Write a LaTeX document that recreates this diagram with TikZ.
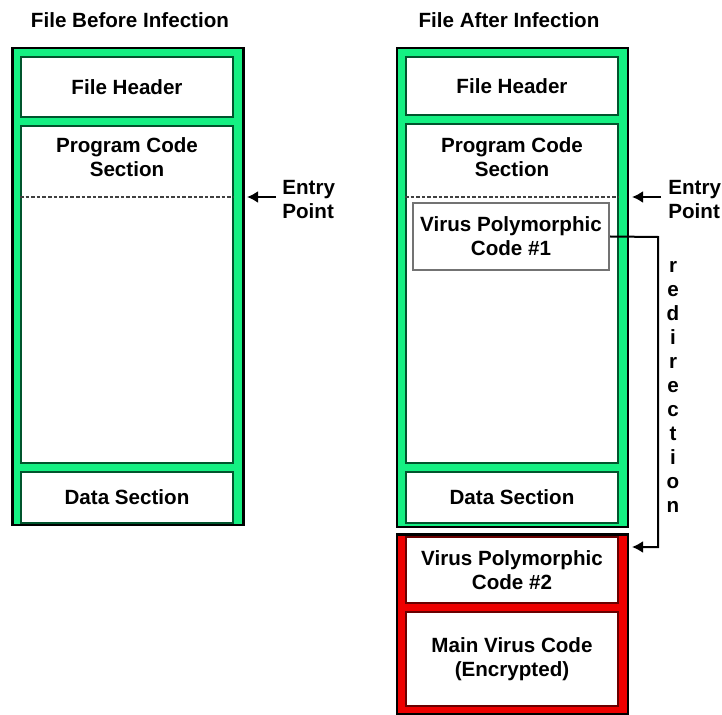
\documentclass[tikz,border=0pt]{standalone}
\usepackage{fontspec}
\setmainfont{Liberation Sans}
\usetikzlibrary{arrows.meta,positioning}
\definecolor{framegreen}{RGB}{20,240,130}
\definecolor{edgegreen}{RGB}{0,85,45}
\definecolor{framered}{RGB}{238,0,0}
\definecolor{edgered}{RGB}{105,0,0}
\tikzset{
  basebox/.style={rectangle,inner sep=0pt,align=center,font=\bfseries\fontsize{10.3}{12}\selectfont},
  framebox/.style={basebox,draw=black,line width=1.3pt,fill=framegreen,minimum width=115.5pt},
  redframe/.style={framebox,fill=framered},
  secbox/.style={basebox,draw=edgegreen,line width=1pt,fill=white,minimum width=106pt},
  redsec/.style={secbox,draw=edgered},
  virusbox/.style={basebox,draw=black!55,line width=1pt,fill=white,minimum width=98pt,minimum height=33.5pt},
  titlenode/.style={basebox},
  entrylbl/.style={basebox,align=left},
  entryline/.style={dashed,dash pattern=on 1.8pt off 1pt,line width=0.7pt,color=black!75},
  arr/.style={-{Latex[length=5.5pt,width=6pt]},line width=1.4pt},
  redir/.style={-{Latex[length=5.5pt,width=6pt]},line width=1pt}
}

\begin{document}
\begin{tikzpicture}[x=0.5pt,y=-0.5pt,node distance=3.5pt]
  \useasboundingbox (0,0) rectangle (722,715);

  %% Titles
  \node[titlenode,anchor=base] (ltitle) at (130,28) {File Before Infection};
  \node[titlenode,anchor=base] (rtitle) at (509,28) {File After Infection};

  %% Clean file
  \node[framebox,minimum height=238.5pt] (lframe) at (128,286.5) {};
  \node[secbox,minimum height=30pt] (lhdr) at (127,87) {File Header};
  \node[secbox,minimum height=168.5pt,below=of lhdr] (lcode) {};
  \node[secbox,minimum height=25.5pt,below=of lcode] (ldata) {Data Section};
  \node[basebox,anchor=north] (lcodetxt) at (127,137) {Program Code\\Section};

  \coordinate (lentry) at (247,197);
  \coordinate (lentrytail) at (276,197);
  \draw[entryline] (lcode.west |- lentry) -- (lcode.east |- lentry);
  \node[entrylbl,anchor=north west] (lentrytxt) at (282,180) {Entry\\Point};
  \draw[arr] (lentrytail) -- (lentry);

  %% Infected file
  \node[framebox,minimum height=239.5pt] (rframe) at (512.5,287.5) {};
  \node[redframe,minimum height=90pt,below=2.5pt of rframe] (rvframe) {};
  \node[secbox,minimum height=29pt] (rhdr) at (512,86) {File Header};
  \node[secbox,minimum height=169.5pt,below=of rhdr] (rcode) {};
  \node[secbox,minimum height=25.5pt,below=of rcode] (rdata) {Data Section};
  \node[basebox,anchor=north] (rcodetxt) at (512,137) {Program Code\\Section};
  \node[redsec,minimum height=33pt] (rpoly2) at (512,570) {Virus Polymorphic\\Code \#2};
  \node[redsec,minimum height=47pt,below=of rpoly2] (rmain) {Main Virus Code\\(Encrypted)};

  \coordinate (rentry) at (632,197);
  \coordinate (rentrytail) at (661,197);
  \draw[entryline] (rcode.west |- rentry) -- (rcode.east |- rentry);
  \node[entrylbl,anchor=north west] (rentrytxt) at (668,180) {Entry\\Point};
  \draw[arr] (rentrytail) -- (rentry);

  \node[virusbox] (rpoly1) at (511,236.5) {Virus Polymorphic\\Code \#1};

  %% Jump from the first stub to the appended code
  \coordinate (redirtop) at (658,237);
  \coordinate (redirtip) at (632,547);
  \draw[redir] (rpoly1.east) -- (redirtop) |- (redirtip);
  \foreach \ch [count=\i from 0] in {r,e,d,i,r,e,c,t,i,o,n}
    \node[basebox,anchor=base] (redir\i) at (673,273+23.9*\i) {\ch};
\end{tikzpicture}
\end{document}
